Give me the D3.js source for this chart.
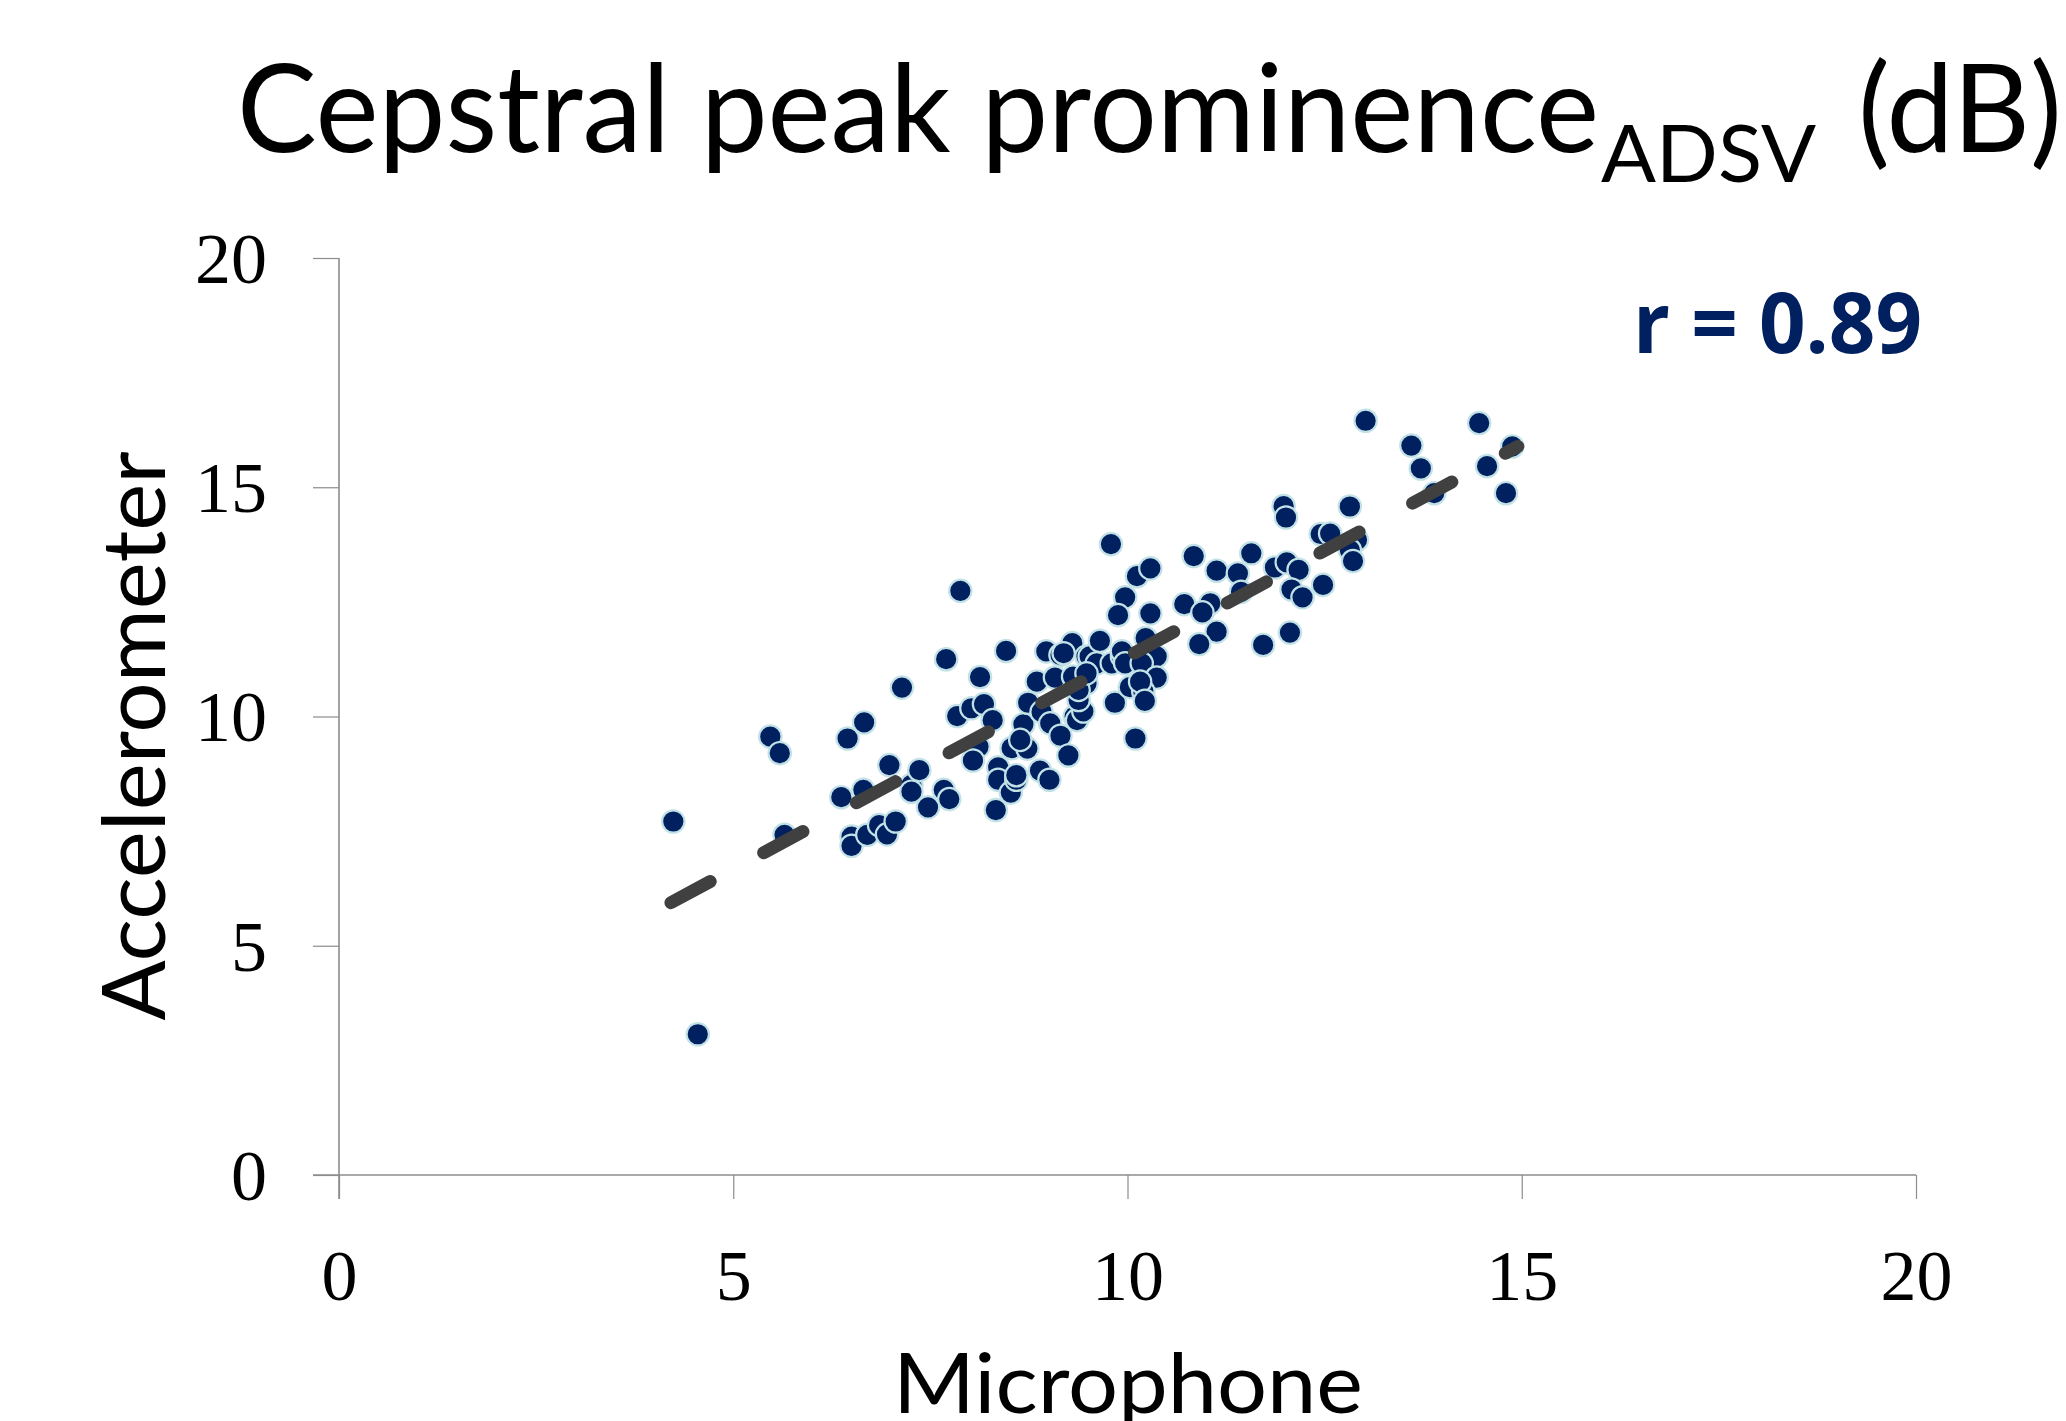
<!DOCTYPE html>
<html>
<head>
<meta charset="utf-8">
<script src="https://cdn.jsdelivr.net/npm/d3@7"></script>
<style>
  html, body { margin: 0; padding: 0; background: #ffffff; }
  svg { display: block; }
</style>
</head>
<body>
<svg id="chart" width="2066" height="1421"></svg>
<script>
// ---- data ----
const micX = [
  4.24, 4.55, 5.47, 5.59, 5.65, 6.37, 6.45, 6.66, 6.65, 6.50,
  6.50, 6.70, 6.85, 6.95, 7.06, 6.98, 7.14, 7.26, 7.26, 7.36,
  7.47, 7.67, 7.74, 7.70, 7.88, 7.84, 8.02, 8.18, 8.13, 8.46,
  8.29, 8.11, 8.04, 8.36, 8.36, 8.52, 8.33, 8.59, 8.59, 8.53,
  8.73, 8.68, 8.64, 8.74, 8.85, 8.89, 9.01, 8.91, 9.02, 9.15,
  9.25, 9.08, 8.97, 9.15, 9.30, 9.19, 9.33, 9.36, 9.44, 9.38,
  9.48, 9.38, 9.31, 9.48, 9.52, 9.61, 9.65, 9.80, 9.93, 9.93,
  9.97, 9.79, 9.97, 9.88, 9.84, 10.03, 10.10, 10.12, 10.29, 10.29,
  10.23, 10.37, 10.18, 10.37, 10.20, 10.16, 10.22, 10.72, 10.84, 11.05,
  10.95, 11.13, 10.91, 11.13, 11.40, 11.57, 11.44, 11.72, 11.87, 12.02,
  12.17, 12.08, 12.22, 12.06, 12.48, 11.98, 12.01, 12.45, 12.57, 12.82,
  12.91, 12.82, 12.86, 13.02, 13.60, 13.72, 13.89, 14.46, 14.56, 14.88,
  14.80, 9.48
];
const accY = [
  7.71, 3.07, 9.56, 9.20, 7.42, 8.24, 9.52, 9.87, 8.40, 7.38,
  7.18, 7.42, 7.63, 7.43, 7.71, 8.94, 10.63, 8.51, 8.36, 8.83,
  8.02, 8.40, 8.20, 11.25, 12.74, 10.01, 10.18, 10.27, 10.86, 11.43,
  9.92, 9.34, 9.04, 8.89, 8.62, 8.34, 7.96, 8.62, 8.72, 9.31,
  9.30, 9.83, 9.49, 10.30, 10.76, 8.82, 8.62, 10.10, 9.85, 9.58,
  9.15, 10.85, 11.42, 11.34, 11.60, 11.38, 10.00, 9.92, 10.11, 10.36,
  10.72, 10.58, 10.87, 11.31, 11.31, 11.16, 11.65, 11.16, 11.31, 11.42,
  11.16, 13.76, 12.60, 12.21, 10.30, 10.64, 9.52, 13.06, 13.23, 12.25,
  11.71, 11.31, 11.16, 10.85, 10.55, 10.76, 10.34, 12.45, 13.50, 12.47,
  12.27, 11.85, 11.58, 13.18, 13.12, 13.56, 12.72, 11.56, 13.25, 13.36,
  13.20, 12.77, 12.60, 11.83, 12.87, 14.59, 14.34, 13.98, 13.99, 14.58,
  13.85, 13.63, 13.39, 16.45, 15.91, 15.41, 14.87, 16.40, 15.46, 15.89,
  14.87, 10.94
];
const trendX = [4.21, 14.95];
const trendY = [5.94, 15.89];
const xTicks = [0, 5, 10, 15, 20];
const yTicks = [0, 5, 10, 15, 20];
const titleMain = "Cepstral peak prominence";
const titleSub = "ADSV";
const titleUnit = "(dB)";
const xLabel = "Microphone";
const yLabel = "Accelerometer";
const rLabel = "r = 0.89";

// ---- chart ----
const svg = d3.select("#chart");
const x = d3.scaleLinear().domain([0, 20]).range([339, 1916]);
const y = d3.scaleLinear().domain([0, 20]).range([1175, 258]);

const axisColor = "#8c8c8c";

// x axis
const gx = svg.append("g")
  .attr("transform", `translate(0,${y(0)})`)
  .call(d3.axisBottom(x).tickValues(xTicks).tickSize(24).tickPadding(50).tickFormat(d3.format("d")));
// y axis
const gy = svg.append("g")
  .attr("transform", `translate(${x(0)},0)`)
  .call(d3.axisLeft(y).tickValues(yTicks).tickSize(26).tickPadding(46).tickFormat(d3.format("d")));

[gx, gy].forEach(g => {
  g.select(".domain").attr("stroke", axisColor).attr("stroke-width", 1.6);
  g.selectAll(".tick line").attr("stroke", axisColor).attr("stroke-width", 1.2);
  g.selectAll(".tick text")
    .attr("fill", "#000")
    .style("font-family", "'Liberation Serif', 'Times New Roman', serif")
    .style("font-size", "72px");
});
gx.select(".domain").attr("d", `M${x(0) - 26},0H${x(20)}`);
gy.select(".domain").attr("d", `M0,${y(0) + 24}V${y(20)}`);
gx.selectAll(".tick text").attr("dy", "0.71em");
gy.selectAll(".tick text").attr("dy", "0.34em");

// points
const pts = micX.map((v, i) => ({ x: v, y: accY[i] }));
svg.append("g")
  .selectAll("circle")
  .data(pts)
  .join("circle")
  .attr("cx", d => x(d.x))
  .attr("cy", d => y(d.y))
  .attr("r", 11.2)
  .attr("fill", "#00205f")
  .attr("stroke", "#c2e2e8")
  .attr("stroke-width", 2.2);

// trend line
const line = d3.line().x(d => x(d[0])).y(d => y(d[1]));
svg.append("path")
  .datum(trendX.map((v, i) => [v, trendY[i]]))
  .attr("d", line)
  .attr("fill", "none")
  .attr("stroke", "#404040")
  .attr("stroke-width", 13)
  .attr("stroke-linecap", "round")
  .attr("stroke-dasharray", "44.6,60.7");

// title
const sansFont = "Lato, 'Open Sans', 'DejaVu Sans', sans-serif";
svg.append("text")
  .attr("x", 237).attr("y", 152)
  .attr("textLength", 1362).attr("lengthAdjust", "spacingAndGlyphs")
  .style("font-family", sansFont).style("font-size", "123px")
  .attr("fill", "#000")
  .text(titleMain);
svg.append("text")
  .attr("x", 1601).attr("y", 182)
  .attr("textLength", 215).attr("lengthAdjust", "spacingAndGlyphs")
  .style("font-family", sansFont).style("font-size", "80px")
  .attr("fill", "#000")
  .text(titleSub);
svg.append("text")
  .attr("x", 1858).attr("y", 152)
  .attr("textLength", 204).attr("lengthAdjust", "spacingAndGlyphs")
  .style("font-family", sansFont).style("font-size", "123px")
  .attr("fill", "#000")
  .text(titleUnit);

// axis titles
svg.append("text")
  .attr("x", 1128).attr("y", 1413)
  .attr("text-anchor", "middle")
  .attr("textLength", 470).attr("lengthAdjust", "spacingAndGlyphs")
  .style("font-family", sansFont).style("font-size", "84px")
  .attr("fill", "#000")
  .text(xLabel);
svg.append("text")
  .attr("transform", "translate(165,736) rotate(-90)")
  .attr("text-anchor", "middle")
  .attr("textLength", 569).attr("lengthAdjust", "spacingAndGlyphs")
  .style("font-family", sansFont).style("font-size", "88px")
  .attr("fill", "#000")
  .text(yLabel);

// r label
svg.append("text")
  .attr("x", 1633).attr("y", 353)
  .attr("textLength", 289).attr("lengthAdjust", "spacingAndGlyphs")
  .style("font-family", "'Open Sans', Lato, sans-serif").style("font-size", "84px")
  .style("font-weight", "bold")
  .attr("fill", "#002060")
  .text(rLabel);
</script>
</body>
</html>
